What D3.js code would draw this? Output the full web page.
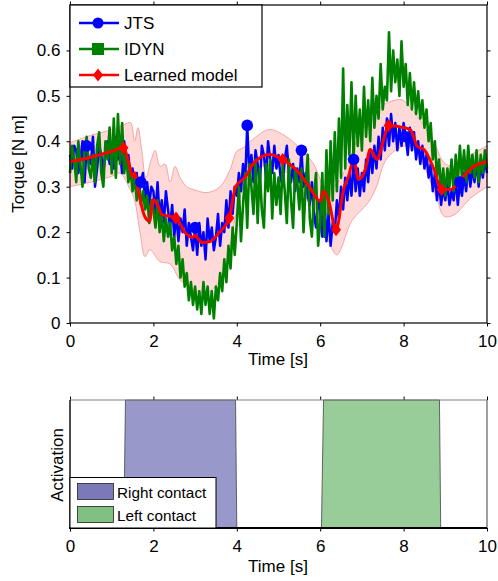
<!DOCTYPE html>
<html>
<head>
<meta charset="utf-8">
<script src="https://cdn.jsdelivr.net/npm/d3@7"></script>
<style>
  body { margin: 0; background: #fff; }
  text { font-family: Arial, "Liberation Sans", sans-serif; fill: #000; }
</style>
</head>
<body>
<div id="chart"></div>
<script>
// sampled torque signals, one value every 0.05 s from 0 to 10 s
var sampleStep = 0.05

var jts = [
  0.37, 0.34, 0.39, 0.38, 0.33, 0.36, 0.40, 0.31, 0.39, 0.36, 0.35, 0.41, 0.30, 0.34, 0.39, 0.37, 0.33, 0.38, 0.40, 0.35,
  0.39, 0.34, 0.41, 0.36, 0.38, 0.33, 0.40, 0.35, 0.37, 0.32, 0.34, 0.30, 0.33, 0.28, 0.31, 0.33, 0.27, 0.31, 0.26, 0.30,
  0.29, 0.24, 0.31, 0.23, 0.27, 0.22, 0.29, 0.25, 0.21, 0.26, 0.19, 0.24, 0.18, 0.23, 0.20, 0.25, 0.17, 0.22, 0.19, 0.16,
  0.21, 0.15, 0.22, 0.17, 0.20, 0.14, 0.23, 0.18, 0.21, 0.16, 0.19, 0.24, 0.17, 0.22, 0.20, 0.27, 0.21, 0.29, 0.24, 0.30,
  0.28, 0.33, 0.29, 0.35, 0.31, 0.435, 0.33, 0.37, 0.31, 0.38, 0.35, 0.30, 0.39, 0.37, 0.32, 0.40, 0.36, 0.33, 0.39, 0.34,
  0.37, 0.32, 0.30, 0.36, 0.39, 0.33, 0.31, 0.35, 0.29, 0.34, 0.31, 0.38, 0.30, 0.33, 0.28, 0.26, 0.31, 0.24, 0.21, 0.27,
  0.25, 0.19, 0.28, 0.18, 0.24, 0.17, 0.22, 0.20, 0.27, 0.23, 0.30, 0.25, 0.32, 0.27, 0.33, 0.28, 0.36, 0.29, 0.34, 0.28,
  0.33, 0.29, 0.36, 0.31, 0.38, 0.33, 0.39, 0.34, 0.41, 0.36, 0.43, 0.38, 0.45, 0.39, 0.46, 0.40, 0.44, 0.38, 0.43, 0.39,
  0.44, 0.41, 0.37, 0.43, 0.38, 0.42, 0.36, 0.40, 0.35, 0.39, 0.34, 0.37, 0.32, 0.35, 0.29, 0.33, 0.27, 0.31, 0.26, 0.30,
  0.27, 0.31, 0.26, 0.29, 0.27, 0.32, 0.26, 0.31, 0.28, 0.33, 0.29, 0.35, 0.30, 0.34, 0.31, 0.36, 0.30, 0.35, 0.32, 0.36,
  0.33
]

var idyn = [
  0.33, 0.39, 0.36, 0.31, 0.40, 0.35, 0.30, 0.38, 0.41, 0.34, 0.32, 0.37, 0.31, 0.39, 0.42, 0.33, 0.30, 0.40, 0.36, 0.43,
  0.33, 0.45, 0.32, 0.46, 0.35, 0.44, 0.33, 0.37, 0.31, 0.34, 0.29, 0.32, 0.27, 0.30, 0.26, 0.29, 0.25, 0.28, 0.22, 0.27,
  0.25, 0.21, 0.27, 0.20, 0.24, 0.18, 0.23, 0.19, 0.22, 0.16, 0.19, 0.13, 0.17, 0.10, 0.14, 0.08, 0.11, 0.05, 0.09, 0.04,
  0.08, 0.03, 0.07, 0.02, 0.09, 0.04, 0.08, 0.02, 0.07, 0.01, 0.08, 0.05, 0.11, 0.07, 0.14, 0.09, 0.17, 0.12, 0.21, 0.15,
  0.22, 0.30, 0.18, 0.26, 0.33, 0.21, 0.35, 0.30, 0.24, 0.36, 0.22, 0.34, 0.25, 0.21, 0.35, 0.29, 0.36, 0.23, 0.33, 0.26,
  0.32, 0.24, 0.35, 0.29, 0.22, 0.36, 0.27, 0.21, 0.34, 0.31, 0.25, 0.34, 0.20, 0.30, 0.37, 0.23, 0.19, 0.28, 0.33, 0.17,
  0.22, 0.33, 0.19, 0.38, 0.24, 0.40, 0.27, 0.42, 0.29, 0.45, 0.32, 0.56, 0.34, 0.48, 0.37, 0.53, 0.36, 0.50, 0.39, 0.47,
  0.38, 0.52, 0.41, 0.49, 0.40, 0.54, 0.43, 0.50, 0.45, 0.57, 0.47, 0.52, 0.49, 0.64, 0.51, 0.60, 0.53, 0.58, 0.50, 0.62,
  0.52, 0.57, 0.48, 0.55, 0.47, 0.53, 0.46, 0.51, 0.45, 0.49, 0.43, 0.47, 0.40, 0.44, 0.36, 0.40, 0.32, 0.36, 0.29, 0.34,
  0.28, 0.34, 0.30, 0.36, 0.29, 0.37, 0.31, 0.39, 0.32, 0.38, 0.31, 0.39, 0.33, 0.37, 0.32, 0.38, 0.31, 0.37, 0.33, 0.38,
  0.34
]
var jtsMarkerTimes = [0.40, 1.70, 3.00, 4.25, 5.55, 6.80, 8.05, 9.35]

// learned model mean
var modelT = [0, 0.5, 1.0, 1.28, 1.43, 1.5, 1.55, 1.63, 1.79, 1.91, 1.99, 2.1, 2.21, 2.35, 2.54, 2.77, 2.93, 3.0, 3.05,
  3.17, 3.37, 3.57, 3.82, 3.97, 4.22, 4.38, 4.78, 5.10, 5.42, 5.74, 6.0, 6.08, 6.2, 6.38, 6.56, 6.68, 6.80, 6.92, 7.08,
  7.2, 7.36, 7.52, 7.64, 8.0, 8.17, 8.33, 8.49, 8.73, 8.91, 9.13, 9.37, 9.69, 10]
var modelY = [0.355, 0.365, 0.378, 0.386, 0.345, 0.322, 0.331, 0.294, 0.235, 0.224, 0.272, 0.26, 0.238, 0.236, 0.231, 0.198, 0.188, 0.193, 0.188,
  0.177, 0.18, 0.198, 0.231, 0.30, 0.323, 0.349, 0.371, 0.36, 0.338, 0.30, 0.268, 0.29, 0.27, 0.205, 0.294, 0.323, 0.36, 0.316, 0.338,
  0.382, 0.36, 0.404, 0.435, 0.43, 0.425, 0.389, 0.382, 0.338, 0.294, 0.294, 0.316, 0.345, 0.355]
var modelMarkerTimes = [1.28, 2.54, 3.82, 5.10, 6.38, 7.64, 8.91]

// uncertainty band of the learned model
var upperT = [0, 0.5, 1.0, 1.3, 1.45, 1.55, 1.63, 1.72, 1.82, 1.95, 2.04, 2.16, 2.28, 2.40, 2.52, 2.64, 2.80, 2.96, 3.28, 3.60,
  3.84, 4.00, 4.14, 4.38, 4.78, 5.10, 5.42, 5.82, 6.16, 6.47, 6.87, 7.05, 7.19, 7.51, 7.91, 8.01, 8.33, 8.73, 8.97, 9.21, 9.61, 10]
var upperY = [0.397, 0.413, 0.426, 0.437, 0.441, 0.40, 0.43, 0.38, 0.32, 0.36, 0.38, 0.345, 0.35, 0.31, 0.345, 0.32, 0.30, 0.294, 0.287, 0.30,
  0.338, 0.378, 0.385, 0.404, 0.426, 0.415, 0.393, 0.353, 0.294, 0.316, 0.40, 0.43, 0.44, 0.48, 0.492, 0.489, 0.455, 0.397, 0.353, 0.345, 0.37, 0.39]
var lowerT = [0, 0.5, 1.0, 1.2, 1.44, 1.55, 1.68, 1.80, 1.92, 2.16, 2.40, 2.64, 2.96, 3.28, 3.60, 3.84, 4.00, 4.24, 4.56, 5.04,
  5.40, 5.70, 6.00, 6.20, 6.40, 6.76, 7.15, 7.35, 7.55, 7.80, 8.05, 8.20, 8.49, 8.81, 8.97, 9.21, 9.61, 10]
var lowerY = [0.30, 0.31, 0.323, 0.33, 0.294, 0.27, 0.20, 0.146, 0.161, 0.135, 0.13, 0.095, 0.073, 0.066, 0.095, 0.168, 0.249, 0.316, 0.345, 0.34,
  0.31, 0.27, 0.22, 0.18, 0.15, 0.225, 0.265, 0.30, 0.355, 0.38, 0.39, 0.385, 0.345, 0.27, 0.235, 0.238, 0.275, 0.30]

// foot contact activation
var rightContactT = [0, 1.29, 1.33, 3.97, 4.0, 10]
var rightContact = [0, 0, 1, 1, 0, 0]
var leftContactT = [0, 6.03, 6.08, 8.86, 8.89, 10]
var leftContact = [0, 0, 1, 1, 0, 0]

var xTicks = [0, 2, 4, 6, 8, 10]
var yTicks = [0, 0.1, 0.2, 0.3, 0.4, 0.5, 0.6]

var svg = d3.select('#chart').append('svg')
  .attr('width', 498)
  .attr('height', 581)

var x = d3.scaleLinear().domain([0, 10]).range([70, 487])
var y = d3.scaleLinear().domain([0, 0.7]).range([323, 5])
var yb = d3.scaleLinear().domain([0, 1]).range([528, 400])

function pts(ts, vs) { return ts.map((t, i) => [t, vs[i]]) }
function sampled(vs) { return vs.map((v, i) => [i * sampleStep, v]) }

var line = d3.line().x(d => x(d[0])).y(d => y(d[1]))

// ---- torque panel ----
var torque = svg.append('g')

var bandLine = d3.line().x(d => x(d[0])).y(d => y(d[1])).curve(d3.curveCatmullRom.alpha(0.5))
var up = pts(upperT, upperY), lo = pts(lowerT, lowerY).reverse()
torque.append('path')
  .attr('d', bandLine(up) + 'L' + bandLine(lo).slice(1) + 'Z')
  .attr('fill', '#ffd8d8')
  .attr('stroke', '#f7a5a5')
  .attr('stroke-width', 1)

torque.append('path')
  .attr('d', line(sampled(jts)))
  .attr('fill', 'none').attr('stroke', '#0000ff').attr('stroke-width', 2.5)
  .attr('stroke-linejoin', 'round')

torque.append('path')
  .attr('d', line(sampled(idyn)))
  .attr('fill', 'none').attr('stroke', '#008000').attr('stroke-width', 2.6)
  .attr('stroke-linejoin', 'round')

var smooth = d3.line().x(d => x(d[0])).y(d => y(d[1])).curve(d3.curveMonotoneX)
torque.append('path')
  .attr('d', smooth(pts(modelT, modelY)))
  .attr('fill', 'none').attr('stroke', '#ff0000').attr('stroke-width', 3)

// JTS markers sit above the other traces
torque.selectAll('circle.jts')
  .data(jtsMarkerTimes.map(t => [t, jts[Math.round(t / sampleStep)]]))
  .enter().append('circle')
    .attr('class', 'jts')
    .attr('cx', d => x(d[0])).attr('cy', d => y(d[1])).attr('r', 5.8)
    .attr('fill', '#0000ff')

var diamond = 'M0,-6.5L5,0L0,6.5L-5,0Z'
torque.selectAll('path.model')
  .data(modelMarkerTimes.map(t => [t, modelY[modelT.indexOf(t)]]))
  .enter().append('path')
    .attr('class', 'model')
    .attr('d', diamond)
    .attr('transform', d => 'translate(' + x(d[0]) + ',' + y(d[1]) + ')')
    .attr('fill', '#ff0000')

function styleAxis(g) {
  g.selectAll('text').style('font-size', '17px').attr('fill', '#000')
  g.selectAll('line').attr('stroke', '#000')
  g.select('.domain').remove()
}

torque.append('g').attr('transform', 'translate(0,323)')
  .call(d3.axisBottom(x).tickValues(xTicks).tickSize(3.5).tickPadding(8).tickFormat(d3.format('d')))
  .call(styleAxis)
torque.append('g').attr('transform', 'translate(0,5)')
  .call(d3.axisTop(x).tickValues(xTicks).tickSize(3.5).tickFormat(''))
  .call(styleAxis)
torque.append('g').attr('transform', 'translate(70,0)')
  .call(d3.axisLeft(y).tickValues(yTicks).tickSize(3.5).tickPadding(6).tickFormat(d3.format('~g')))
  .call(styleAxis)
torque.append('g').attr('transform', 'translate(487,0)')
  .call(d3.axisRight(y).tickValues(yTicks).tickSize(3.5).tickFormat(''))
  .call(styleAxis)
torque.append('rect')
  .attr('x', 70).attr('y', 5).attr('width', 417).attr('height', 318)
  .attr('fill', 'none').attr('stroke', '#000').attr('stroke-width', 1.2)

torque.append('text')
  .attr('transform', 'translate(24,164) rotate(-90)')
  .attr('text-anchor', 'middle').style('font-size', '17px')
  .text('Torque [N m]')
torque.append('text')
  .attr('x', 278).attr('y', 365)
  .attr('text-anchor', 'middle').style('font-size', '17px')
  .text('Time [s]')

// legend
var leg = torque.append('g')
leg.append('rect')
  .attr('x', 70).attr('y', 5).attr('width', 192).attr('height', 82)
  .attr('fill', '#fff').attr('stroke', '#000').attr('stroke-width', 1.2)
var legItems = [
  {name: 'JTS', color: '#0000ff', mark: 'circle'},
  {name: 'IDYN', color: '#008000', mark: 'square'},
  {name: 'Learned model', color: '#ff0000', mark: 'diamond'}
]
legItems.forEach(function (d, i) {
  var cy = 23 + i * 26
  leg.append('line')
    .attr('x1', 79).attr('x2', 119).attr('y1', cy).attr('y2', cy)
    .attr('stroke', d.color).attr('stroke-width', 2.6)
  if (d.mark === 'circle')
    leg.append('circle').attr('cx', 98).attr('cy', cy).attr('r', 5.5).attr('fill', d.color)
  else if (d.mark === 'square')
    leg.append('rect').attr('x', 92).attr('y', cy - 6).attr('width', 12).attr('height', 12).attr('fill', d.color)
  else
    leg.append('path').attr('d', diamond).attr('transform', 'translate(98,' + cy + ')').attr('fill', d.color)
  leg.append('text')
    .attr('x', 124).attr('y', cy + 6)
    .style('font-size', '17px')
    .text(d.name)
})

// ---- contact panel ----
var contact = svg.append('g')
var area = d3.area().x(d => x(d[0])).y0(yb(0)).y1(d => yb(d[1]))
contact.append('path')
  .attr('d', area(pts(rightContactT, rightContact)))
  .attr('fill', '#9898ca').attr('stroke', '#444').attr('stroke-width', 0.8)
contact.append('path')
  .attr('d', area(pts(leftContactT, leftContact)))
  .attr('fill', '#98cc98').attr('stroke', '#444').attr('stroke-width', 0.8)

contact.append('g').attr('transform', 'translate(0,528)')
  .call(d3.axisBottom(x).tickValues(xTicks).tickSize(3.5).tickPadding(8).tickFormat(d3.format('d')))
  .call(styleAxis)
contact.append('g').attr('transform', 'translate(0,400)')
  .call(d3.axisTop(x).tickValues(xTicks).tickSize(3.5).tickFormat(''))
  .call(styleAxis)
contact.append('line').attr('x1', 70).attr('x2', 487).attr('y1', 400).attr('y2', 400)
  .attr('stroke', '#808080').attr('stroke-width', 1.2)
contact.append('line').attr('x1', 487).attr('x2', 487).attr('y1', 400).attr('y2', 528)
  .attr('stroke', '#606060').attr('stroke-width', 1.2)
contact.append('line').attr('x1', 70).attr('x2', 70).attr('y1', 400).attr('y2', 528)
  .attr('stroke', '#000').attr('stroke-width', 1.4)
contact.append('line').attr('x1', 69).attr('x2', 487).attr('y1', 528).attr('y2', 528)
  .attr('stroke', '#000').attr('stroke-width', 2)

contact.append('text')
  .attr('transform', 'translate(63,465) rotate(-90)')
  .attr('text-anchor', 'middle').style('font-size', '17px')
  .text('Activation')
contact.append('text')
  .attr('x', 278).attr('y', 572)
  .attr('text-anchor', 'middle').style('font-size', '17px')
  .text('Time [s]')

var leg2 = contact.append('g')
leg2.append('rect')
  .attr('x', 70).attr('y', 477.5).attr('width', 146).attr('height', 50.5)
  .attr('fill', '#fff').attr('stroke', '#000').attr('stroke-width', 1)
var contactItems = [
  {name: 'Right contact', color: '#7a7ab9'},
  {name: 'Left contact', color: '#80c080'}
]
contactItems.forEach(function (d, i) {
  var ty = 483.5 + i * 23
  leg2.append('rect')
    .attr('x', 77.5).attr('y', ty).attr('width', 36).attr('height', 16)
    .attr('fill', d.color).attr('stroke', '#222').attr('stroke-width', 0.8)
  leg2.append('text')
    .attr('x', 117).attr('y', ty + 14)
    .style('font-size', '15.3px')
    .text(d.name)
})
</script>
</body>
</html>
